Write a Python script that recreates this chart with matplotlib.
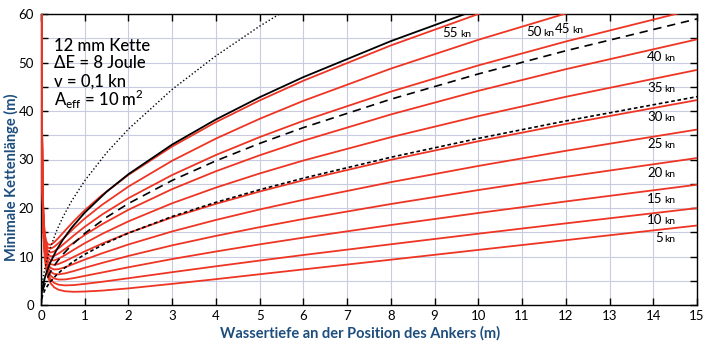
import matplotlib
matplotlib.use("Agg")
import matplotlib.pyplot as plt
from matplotlib.ticker import MultipleLocator

# ---------------- data ----------------
depth_red = [0.013, 0.02, 0.03, 0.045, 0.065, 0.09, 0.12, 0.16, 0.22, 0.3, 0.4,
             0.55, 0.75, 1.0, 1.4, 2, 3, 4, 5, 6, 8, 10, 12, 15]
red_5 = [61.7, 40.24, 26.97, 18.14, 12.75, 9.41, 7.27, 5.70, 4.47, 3.65, 3.15,
         2.83, 2.72, 2.78, 2.97, 3.43, 4.36, 5.33, 6.34, 7.34, 9.34, 11.36, 13.37, 16.39]
red_10 = [61.9, 40.48, 27.26, 18.50, 13.18, 9.92, 7.86, 6.37, 5.25, 4.56, 4.19,
          4.04, 4.11, 4.35, 4.79, 5.52, 6.77, 7.98, 9.16, 10.31, 12.52, 14.7, 16.83, 19.97]
red_15 = [62.1, 40.72, 27.55, 18.86, 13.61, 10.42, 8.44, 7.05, 6.04, 5.48, 5.25,
          5.27, 5.55, 6.0, 6.71, 7.78, 9.48, 11.03, 12.5, 13.89, 16.49, 18.97, 21.35, 24.8]
red_20 = [62.3, 40.96, 27.85, 19.22, 14.04, 10.93, 9.03, 7.72, 6.84, 6.41, 6.32,
          6.52, 7.0, 7.67, 8.68, 10.12, 12.3, 14.25, 16.05, 17.73, 20.82, 23.7, 26.43, 30.3]
red_25 = [62.5, 41.2, 28.14, 19.58, 14.48, 11.44, 9.62, 8.40, 7.63, 7.33, 7.39,
          7.78, 8.47, 9.36, 10.67, 12.48, 15.17, 17.54, 19.7, 21.69, 25.33, 28.67, 31.79, 36.17]
red_30 = [62.7, 41.44, 28.43, 19.94, 14.91, 11.95, 10.2, 9.08, 8.43, 8.26, 8.46,
          9.03, 9.93, 11.05, 12.67, 14.86, 18.07, 20.86, 23.4, 25.72, 29.93, 33.76, 37.31, 42.25]
red_35 = [62.9, 41.68, 28.73, 20.3, 15.34, 12.46, 10.79, 9.76, 9.22, 9.19, 9.54,
          10.29, 11.4, 12.74, 14.67, 17.25, 20.98, 24.21, 27.12, 29.79, 34.6, 38.94, 42.93, 48.47]
red_40 = [63.1, 41.92, 29.03, 20.67, 15.78, 12.97, 11.38, 10.44, 10.02, 10.13, 10.61,
          11.55, 12.87, 14.44, 16.67, 19.64, 23.9, 27.58, 30.87, 33.88, 39.29, 44.16, 48.62, 54.77]
red_45 = [63.2, 42.16, 29.32, 21.03, 16.21, 13.48, 11.97, 11.12, 10.82, 11.05, 11.68,
          12.81, 14.34, 16.13, 18.67, 22.03, 26.81, 30.93, 34.62, 37.98, 44.0, 49.4, 54.33, 61.1]
red_50 = [63.4, 42.4, 29.61, 21.39, 16.65, 13.99, 12.56, 11.8, 11.62, 11.99, 12.76,
          14.07, 15.81, 17.83, 20.68, 24.42, 29.75, 34.31, 38.39, 42.1, 48.74, 54.68, 60.1, 67.53]
red_55 = [63.6, 42.65, 29.91, 21.75, 17.08, 14.5, 13.15, 12.49, 12.42, 12.92, 13.84,
          15.34, 17.29, 19.54, 22.7, 26.83, 32.69, 37.71, 42.18, 46.25, 53.52, 60.0, 65.9, 74.0]
red_speeds = [5, 10, 15, 20, 25, 30, 35, 40, 45, 50, 55]
red_series = [red_5, red_10, red_15, red_20, red_25, red_30, red_35, red_40,
              red_45, red_50, red_55]

depth_blk = [0.0, 0.02, 0.05, 0.1, 0.2, 0.35, 0.5, 0.7, 1.0, 1.5, 2, 3, 4, 5, 6, 8, 10, 12, 15]
black_solid = [0, 2.69, 4.25, 6.02, 8.51, 11.26, 13.46, 15.93, 19.05, 23.35, 26.98,
               33.09, 38.26, 42.84, 46.99, 54.41, 61.0, 67.0, 75.0]
black_dashed = [0, 2.08, 3.29, 4.66, 6.59, 8.72, 10.43, 12.34, 14.76, 18.1, 20.93,
                25.69, 29.73, 33.32, 36.58, 42.43, 47.64, 52.42, 58.99]
black_shortdash = [0, 1.47, 2.32, 3.29, 4.65, 6.16, 7.37, 8.72, 10.44, 12.82, 14.83,
                   18.25, 21.17, 23.77, 26.15, 30.46, 34.35, 37.95, 42.95]

depth_dot = [0.0, 0.01, 0.03, 0.05, 0.1, 0.2, 0.35, 0.5, 0.7, 1.0, 1.5, 2, 3, 4, 5, 6]
black_dotted = [0, 2.56, 4.44, 5.73, 8.1, 11.45, 15.16, 18.12, 21.44, 25.63, 31.4,
                36.28, 44.46, 51.38, 57.49, 63.02]

info_lines = ["12 mm Kette", "\u0394E = 8 Joule", "v = 0,1 kn",
              "A$_\\mathregular{eff}$ = 10 m$^\\mathregular{2}$"]
# label anchor: x of the number's right edge, y of the text baseline (data units)
label_pos = {55: (9.54, 55.2), 50: (11.45, 55.4), 45: (12.11, 56.0),
             40: (14.215, 50.25), 35: (14.215, 44.0), 30: (14.215, 38.0),
             25: (14.215, 32.3), 20: (14.215, 26.45), 15: (14.215, 20.95),
             10: (14.215, 16.65), 5: (14.215, 13.05)}

RED = "#ee3524"
BLUE = "#1d4e7e"
GRID = "#c9cbe0"

plt.rcParams['font.family'] = ['Lato', 'DejaVu Sans']
plt.rcParams['mathtext.fontset'] = 'custom'
plt.rcParams['mathtext.rm'] = 'Lato'

fig = plt.figure(figsize=(7.12, 3.54), dpi=100)
ax = fig.add_axes([41 / 712, 49 / 354, 656 / 712, 291 / 354])
ax.set_xlim(0, 15)
ax.set_ylim(0, 60)

ax.xaxis.set_major_locator(MultipleLocator(1))
ax.yaxis.set_major_locator(MultipleLocator(10))
ax.yaxis.set_minor_locator(MultipleLocator(5))
ax.grid(which='both', color=GRID, lw=0.8)
ax.set_axisbelow(True)
ax.tick_params(which='both', direction='in', top=True, right=True,
               length=5, width=1, labelsize=9.5)
ax.tick_params(axis='y', pad=5)
ax.tick_params(axis='x', pad=3.5)
for s in ax.spines.values():
    s.set_linewidth(1.0)

for ys in red_series:
    ax.plot(depth_red, ys, color=RED, lw=1.3, zorder=3)

ax.plot(depth_blk, black_solid, color='black', lw=1.3, zorder=4)
ax.plot(depth_blk, black_dashed, color='black', lw=1.2, ls=(0, (5, 3.5)), zorder=4)
ax.plot(depth_blk, black_shortdash, color='black', lw=1.2, ls=(0, (2.2, 1.6)), zorder=4)
ax.plot(depth_dot, black_dotted, color='black', lw=1.0, ls=(0, (1, 1.6)), zorder=4)

for v in red_speeds:
    x, y = label_pos[v]
    ax.text(x, y, str(v), ha='right', va='baseline', fontsize=9.5, zorder=5)
    ax.text(x + 0.04, y, "kn", ha='left', va='baseline', fontsize=7.5, zorder=5)

for i, line in enumerate(info_lines):
    ax.text(0.29, 53.5 - i * 3.7, line, ha='left', va='center', fontsize=12,
            fontweight='medium', zorder=5)

fig.text(0.506, 0.057, "Wassertiefe an der Position des Ankers (m)", ha='center',
         va='center', color=BLUE, fontsize=10.5, fontweight='bold')
fig.text(0.016, 0.50, "Minimale Kettenlänge (m)", ha='center', va='center',
         rotation=90, color=BLUE, fontsize=10.5, fontweight='bold')

fig.savefig("out.png", dpi=100)
